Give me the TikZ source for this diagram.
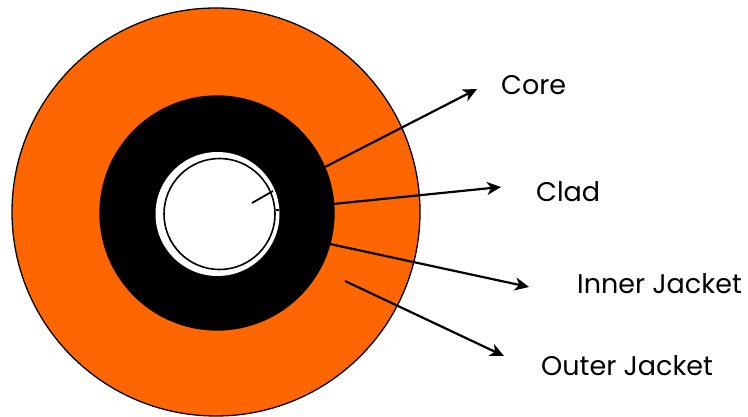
\documentclass[tikz,border=0pt]{standalone}
\usepackage{fontspec}
\setmainfont{Poppins}
\usetikzlibrary{arrows.meta}
\begin{document}
\begin{tikzpicture}[x=1pt,y=-1pt,
  ring/.style={draw=black,line width=1.3pt},
  pointer/.style={draw=black,line width=2.2pt,-{Stealth[length=14pt,width=13pt,inset=4pt]}},
  lbl/.style={anchor=west,inner sep=0pt,font=\fontsize{27}{31}\selectfont}]
\useasboundingbox (0,0) rectangle (748,417);
\definecolor{jacket}{RGB}{255,102,0}
% cable layers
\node[ring,circle,fill=jacket,minimum size=408pt,inner sep=0pt] (outer) at (216,212) {};
\node[ring,circle,fill=black,minimum size=234pt,inner sep=0pt] (inner) at (217,213) {};
\node[circle,fill=white,minimum size=124pt,inner sep=0pt] (clad) at (217.5,214) {};
\node[ring,circle,line width=1.6pt,minimum size=111pt,inner sep=0pt] (core) at (219.5,214) {};
% short marks inside the core
\coordinate (m1) at (252,203);
\coordinate (m2) at (273,191);
\draw[line width=1.8pt] (m1) -- (m2);
\coordinate (t1) at (276,210);
\coordinate (t2) at (279,210);
\draw[line width=1.4pt] (t1) -- (t2);
% labels
\node[lbl] (lcore) at (501,85) {Core};
\node[lbl] (lclad) at (536,192) {Clad};
\node[lbl] (linner) at (577,284) {Inner Jacket};
\node[lbl] (louter) at (541,366) {Outer Jacket};
% arrows
\coordinate (s1) at (325,167); \coordinate (e1) at (477,89);
\coordinate (s2) at (333,204); \coordinate (e2) at (501,187);
\coordinate (s3) at (330,244); \coordinate (e3) at (529,287);
\coordinate (s4) at (345,281); \coordinate (e4) at (504,356);
\draw[pointer] (s1) -- (e1);
\draw[pointer] (s2) -- (e2);
\draw[pointer] (s3) -- (e3);
\draw[pointer] (s4) -- (e4);
\end{tikzpicture}
\end{document}
